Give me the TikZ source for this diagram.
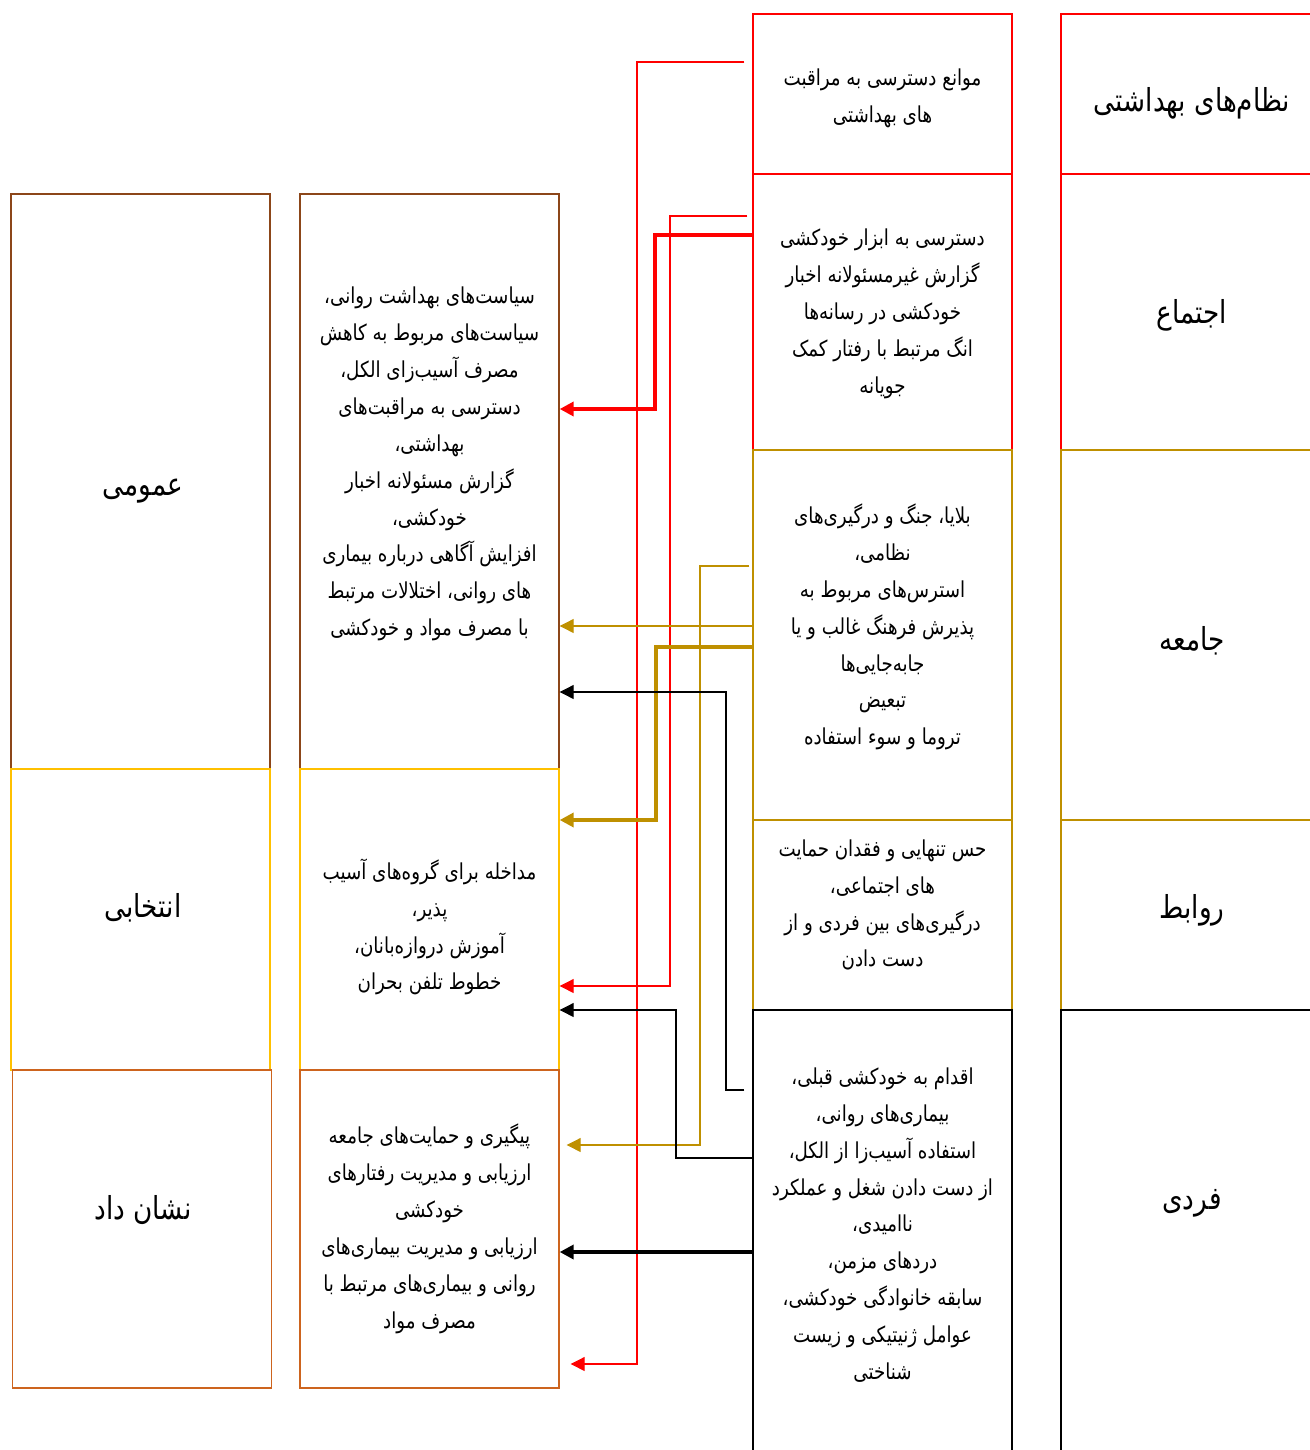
\documentclass[tikz,border=0pt]{standalone}
\usepackage{fontspec}
\usetikzlibrary{arrows.meta,calc}
\newfontfamily\arabicfont[Script=Arabic,FakeStretch=0.83]{DejaVu Sans}
\TeXXeTstate=1
\newcommand{\rl}[1]{\beginR#1\endR}
\definecolor{gold}{RGB}{191,144,0}
\definecolor{amber}{RGB}{255,192,0}
\definecolor{rust}{RGB}{140,70,25}
\definecolor{tangerine}{RGB}{205,100,30}
\tikzset{
  cell/.style={draw,rectangle,inner sep=0pt,line width=0.8pt,minimum width=5.18cm},
  txt/.style={align=center,font=\arabicfont\fontsize{12.5}{21}\selectfont},
  head/.style={font=\arabicfont\fontsize{18}{20}\selectfont},
  thin link/.style={line width=0.6pt,-{Triangle[length=8pt,width=8pt]}},
  thick link/.style={line width=2.3pt,-{Triangle[length=8pt,width=8pt]}}
}
\begin{document}
\begin{tikzpicture}[x=0.02cm,y=-0.02cm]
\clip (0,0) rectangle (1310,1450);
% levels (right column)
\node[cell,draw=red,minimum width=5.38cm,minimum height=3.2cm] (lvHealth) at (1195.5,94) {};
\node[cell,draw=red,minimum width=5.38cm,minimum height=5.52cm] (lvSoc) at (1195.5,312) {};
\node[cell,draw=gold,minimum width=5.38cm,minimum height=7.4cm] (lvCom) at (1195.5,635) {};
\node[cell,draw=gold,minimum width=5.38cm,minimum height=3.8cm] (lvRel) at (1195.5,915) {};
\node[cell,draw=black,minimum width=5.38cm,minimum height=9cm] (lvInd) at (1195.5,1235) {};
\node[head] (hHealth) at (1192,103) {\rl{نظام‌های بهداشتی}};
\node[head] (hSoc) at (1192,315) {\rl{اجتماع}};
\node[head] (hCom) at (1192,641) {\rl{جامعه}};
\node[head] (hRel) at (1192,910) {\rl{روابط}};
\node[head] (hInd) at (1192,1203) {\rl{فردی}};
% risk factors (middle column)
\node[cell,draw=red,minimum height=3.2cm] (rkBar) at (882.5,94) {};
\node[cell,draw=red,minimum height=5.52cm] (rkAcc) at (882.5,312) {};
\node[cell,draw=gold,minimum height=7.4cm] (rkDis) at (882.5,635) {};
\node[cell,draw=gold,minimum height=3.8cm] (rkLon) at (882.5,915) {};
\node[cell,draw=black,minimum height=9cm] (rkInd) at (882.5,1235) {};
\node[txt] (tBar) at (882.5,98) {\rl{موانع دسترسی به مراقبت}\\\rl{های بهداشتی}};
\node[txt] (tAcc) at (882.5,314) {\rl{دسترسی به ابزار خودکشی}\\\rl{گزارش غیرمسئولانه اخبار}\\\rl{خودکشی در رسانه‌ها}\\\rl{انگ مرتبط با رفتار کمک}\\\rl{جویانه}};
\node[txt] (tDis) at (882.5,627) {\rl{بلایا، جنگ و درگیری‌های}\\\rl{نظامی،}\\\rl{استرس‌های مربوط به}\\\rl{پذیرش فرهنگ غالب و یا}\\\rl{جابه‌جایی‌ها}\\\rl{تبعیض}\\\rl{تروما و سوء استفاده}};
\node[txt] (tLon) at (882.5,905) {\rl{حس تنهایی و فقدان حمایت}\\\rl{های اجتماعی،}\\\rl{درگیری‌های بین فردی و از}\\\rl{دست دادن}};
\node[txt] (tInd) at (882.5,1225) {\rl{اقدام به خودکشی قبلی،}\\\rl{بیماری‌های روانی،}\\\rl{استفاده آسیب‌زا از الکل،}\\\rl{از دست دادن شغل و عملکرد}\\\rl{ناامیدی،}\\\rl{دردهای مزمن،}\\\rl{سابقه خانوادگی خودکشی،}\\\rl{عوامل ژنیتیکی و زیست}\\\rl{شناختی}};
% intervention types (left column)
\node[cell,draw=rust,minimum height=11.5cm] (tyGen) at (140.5,481.5) {};
\node[cell,draw=amber,minimum height=6.02cm] (tySel) at (140.5,919.5) {};
\node[cell,draw=tangerine,minimum height=6.36cm] (tyInd) at (142,1229) {};
\node[head] (hGen) at (143,491) {\rl{عمومی}};
\node[head] (hSel) at (143,908) {\rl{انتخابی}};
\node[head] (hInd2) at (143,1210) {\rl{نشان داد}};
% interventions
\node[cell,draw=rust,minimum height=11.5cm] (ivGen) at (429.5,481.5) {};
\node[cell,draw=amber,minimum height=6.02cm] (ivSel) at (429.5,919.5) {};
\node[cell,draw=tangerine,minimum height=6.36cm] (ivInd) at (429.5,1229) {};
\node[txt] (tGen) at (429.5,464) {\rl{سیاست‌های بهداشت روانی،}\\\rl{سیاست‌های مربوط به کاهش}\\\rl{مصرف آسیب‌زای الکل،}\\\rl{دسترسی به مراقبت‌های}\\\rl{بهداشتی،}\\\rl{گزارش مسئولانه اخبار}\\\rl{خودکشی،}\\\rl{افزایش آگاهی درباره  بیماری}\\\rl{های روانی، اختلالات مرتبط}\\\rl{با مصرف مواد و خودکشی}};
\node[txt] (tSel) at (429.5,927) {\rl{مداخله برای گروه‌های آسیب}\\\rl{پذیر،}\\\rl{آموزش دروازه‌بانان،}\\\rl{خطوط تلفن بحران}};
\node[txt] (tIvInd) at (429.5,1229) {\rl{پیگیری و حمایت‌های جامعه}\\\rl{ارزیابی و مدیریت رفتارهای}\\\rl{خودکشی}\\\rl{ارزیابی و مدیریت بیماری‌های}\\\rl{روانی و بیماری‌های مرتبط با}\\\rl{مصرف مواد}};
% links
\draw[thin link,red] ($(rkBar.west |- 0,62)+(-8,0)$) -| (637,1364) -- ($(ivInd.east |- 0,1364)+(11,0)$);
\draw[thin link,red] ($(rkAcc.west |- 0,216)+(-5,0)$) -| (670,986) -- (ivSel.east |- 0,986);
\draw[thick link,red] (rkAcc.west |- 0,235) -| (655,409) -- (ivGen.east |- 0,409);
\draw[thin link,gold] ($(rkDis.west |- 0,566)+(-3,0)$) -| (700,1145) -- ($(ivInd.east |- 0,1145)+(7,0)$);
\draw[thin link,gold] (rkDis.west |- 0,626) -- (ivGen.east |- 0,626);
\draw[thick link,gold] (rkDis.west |- 0,647) -| (656,820) -- (ivSel.east |- 0,820);
\draw[thin link,black] ($(rkInd.west |- 0,1090)+(-8,0)$) -| (726,692) -- (ivGen.east |- 0,692);
\draw[thin link,black] (rkInd.west |- 0,1158) -| (676,1010) -- (ivSel.east |- 0,1010);
\draw[thick link,black] (rkInd.west |- 0,1252) -- (ivInd.east |- 0,1252);
\end{tikzpicture}
\end{document}
